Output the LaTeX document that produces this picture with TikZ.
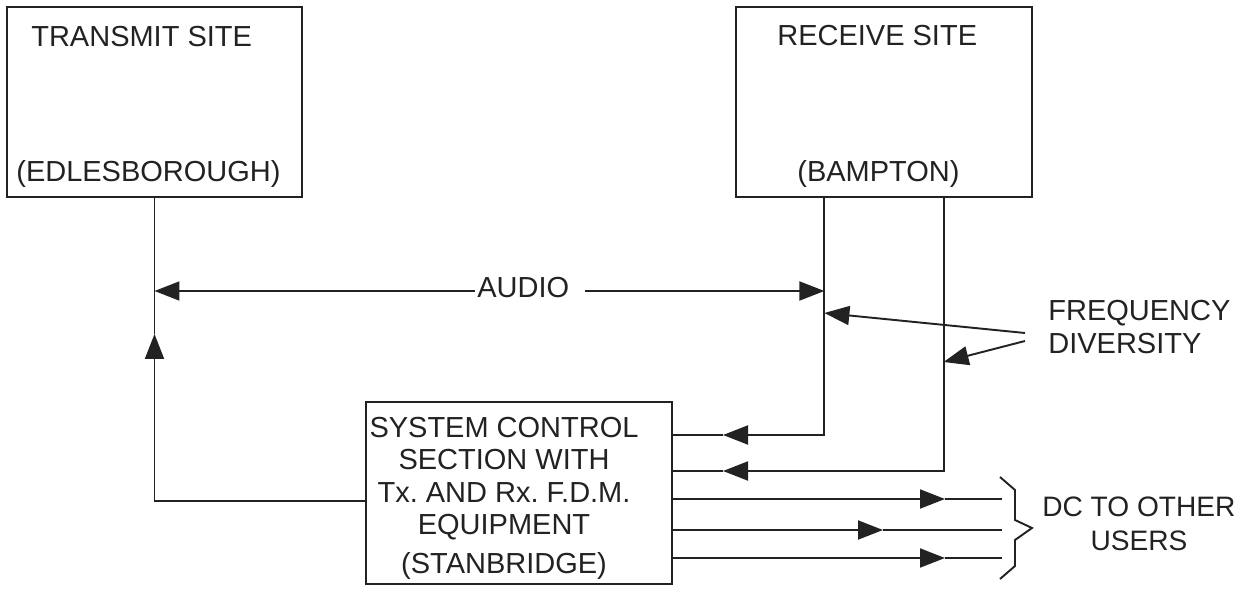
\documentclass[tikz,border=0pt]{standalone}
\usepackage{fontspec}
\setmainfont{Liberation Sans}
\usepackage{tikz}
\usetikzlibrary{positioning,arrows.meta,calc}
\definecolor{InkDark}{HTML}{222222}
\frenchspacing

\begin{document}
\begin{tikzpicture}[x=0.02cm, y=-0.02cm,
  every node/.style={font=\fontsize{16.5}{19}\selectfont, text=InkDark, inner sep=0pt},
  sitebox/.style={draw=InkDark, line width=1.2pt},
  wire/.style={draw=InkDark, line width=1.1pt},
  sig/.style={wire, -{Triangle[length=0.5cm, width=0.38cm]}}]
  \useasboundingbox (0,0) rectangle (1242,598);

  % sites
  \node[sitebox, minimum width=5.9cm, minimum height=3.8cm] (tx) at (154.5,102) {};
  \node[sitebox, minimum width=5.92cm, minimum height=3.8cm] (rx) at (884,102) {};
  \node[sitebox, minimum width=6.12cm, minimum height=3.64cm] (sc) at (519,493) {};

  \node[anchor=base west] (txName) at (31,47) {TRANSMIT SITE};
  \node[anchor=base west] (txPlace) at (16,182) {(EDLESBOROUGH)};
  \node[anchor=base west] (rxName) at (777,46) {RECEIVE SITE};
  \node[anchor=base west] (rxPlace) at (797,182) {(BAMPTON)};
  \node[anchor=north, align=center, font=\fontsize{16.5}{18.4}\selectfont] (scText) at (504,417)
    {SYSTEM CONTROL\\SECTION WITH\\Tx. AND Rx. F.D.M.\\EQUIPMENT\\[3.6pt](STANBRIDGE)};

  \node[anchor=base west] (audio) at (477,297) {AUDIO};
  \node[anchor=north west, align=left] (fd) at (1048,300) {FREQUENCY\\DIVERSITY};
  \node[anchor=north west, align=center, font=\fontsize{16}{19}\selectfont] (dc) at (1042,497)
    {DC TO OTHER\\USERS};

  % junctions
  \coordinate (ra) at ($(rx.south west)!0.3!(rx.south east)$);
  \coordinate (rb) at ($(rx.south west)!0.7!(rx.south east)$);
  \coordinate (auL) at (475,291);
  \coordinate (auR) at (585,291);
  \coordinate (upTip) at (tx.south |- 0,334);
  \coordinate (raIn) at (723,435);
  \coordinate (rbIn) at (723,471);
  \coordinate (fdA) at (1025,333);
  \coordinate (fdB) at (1025,341);

  % audio
  \draw[sig] (auL) -- (auL -| tx.south);
  \draw[sig] (auR) -- (auR -| ra);

  % control to transmit
  \draw[sig] (sc.west |- 0,501) -| (upTip);
  \draw[wire] (upTip) -- (tx.south);

  % receive to control
  \draw[sig] (ra) |- (raIn);
  \draw[wire] (raIn) -- (raIn -| sc.east);
  \draw[sig] (rb) |- (rbIn);
  \draw[wire] (rbIn) -- (rbIn -| sc.east);

  % frequency diversity
  \draw[sig] (fdA) -- (ra |- 0,313);
  \draw[sig] (fdB) -- (rb |- 0,362);

  % outputs
  \foreach \y/\tip [count=\i] in {499/945, 530/883, 558/945} {
    \coordinate (out\i) at (\tip,\y);
    \coordinate (end\i) at (1002,\y);
    \draw[sig] (sc.east |- out\i) -- (out\i);
    \draw[wire] (out\i) -- (end\i);
  }

  % brace
  \draw[wire] (1000,477) -- (1015,490) -- (1015,520) -- (1032,528)
    -- (1015,540) -- (1015,566) -- (1000,579);
\end{tikzpicture}
\end{document}
